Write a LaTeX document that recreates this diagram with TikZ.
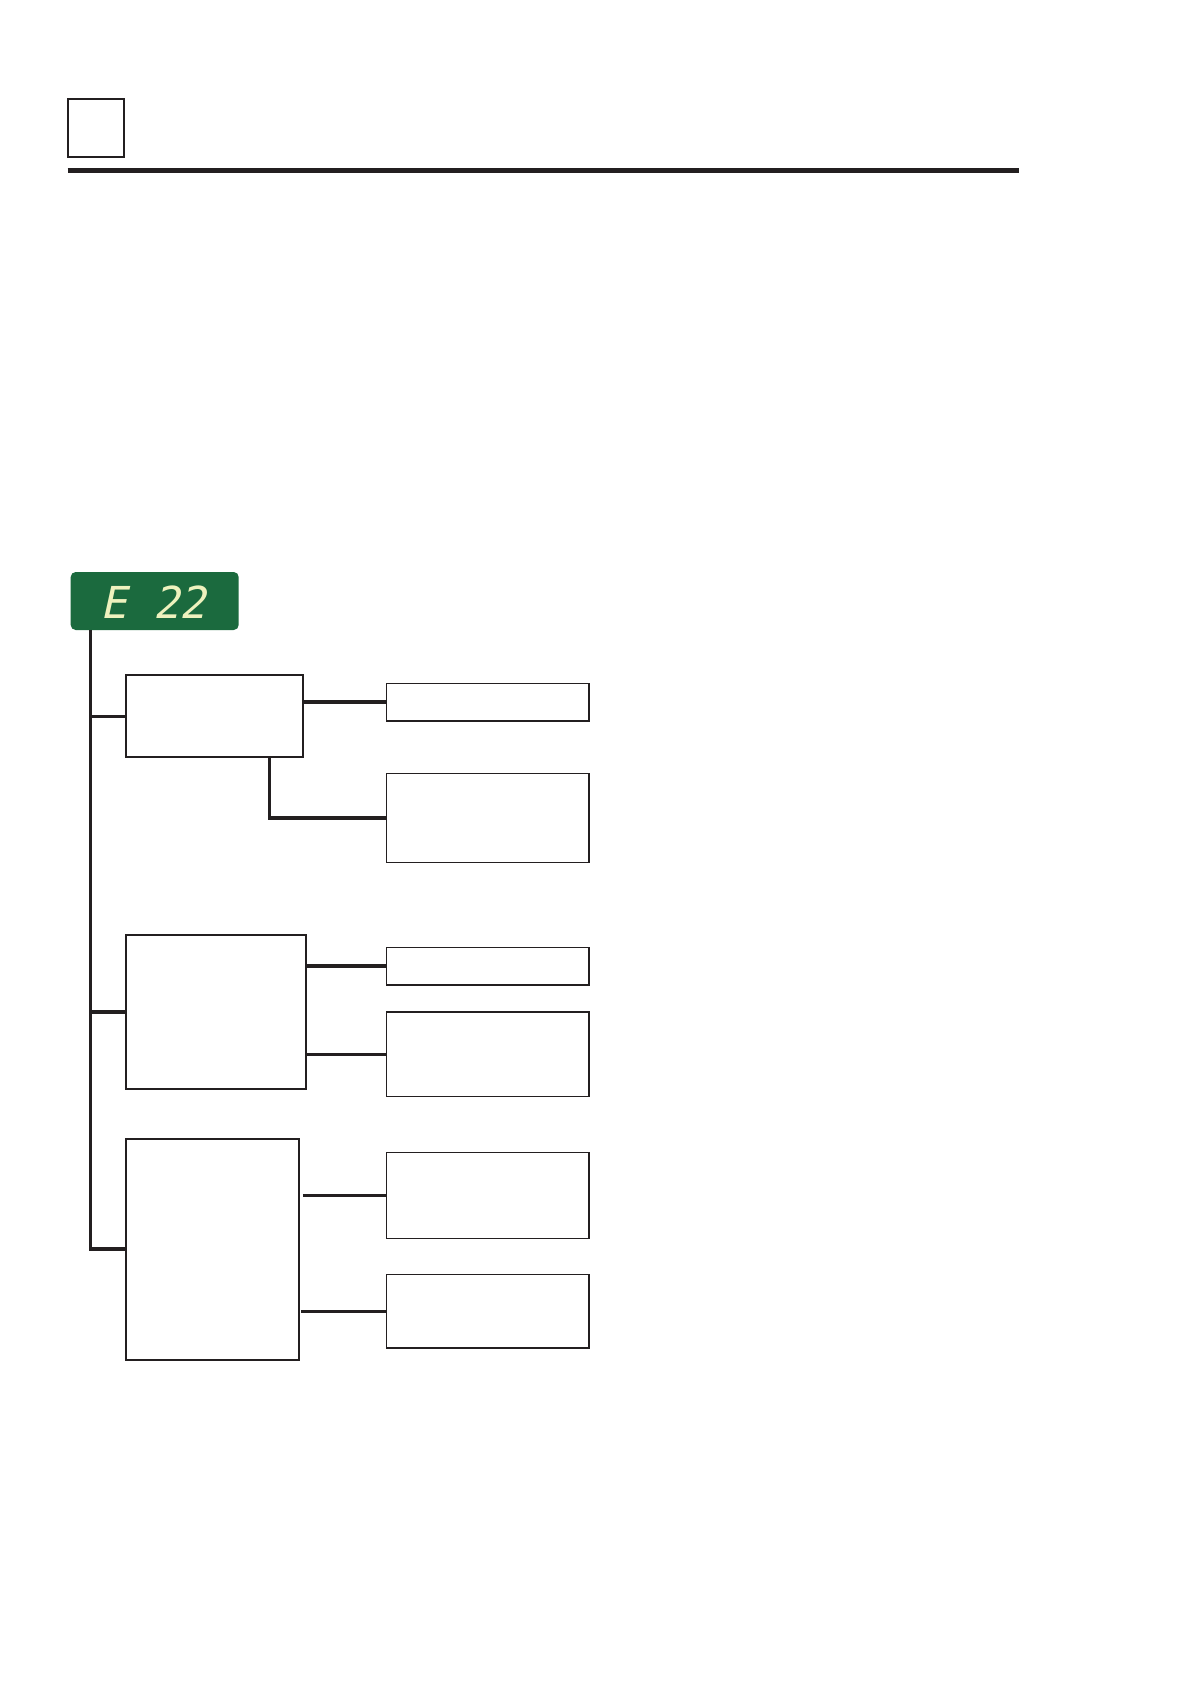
\documentclass[tikz,border=0pt]{standalone}
\usepackage{fontspec}
\usepackage{tikz}
\usetikzlibrary{
  positioning,
  calc,
}
\newfontfamily\segfont{DejaVu Sans Mono}[FakeSlant=0.22]
\definecolor{ink}{HTML}{231F20}
\definecolor{lcd}{HTML}{1B6A3E}
\definecolor{glow}{HTML}{EEF2BE}
\tikzset{
  panel/.style 2 args={
    draw=ink,
    line width=1pt,
    inner sep=0pt,
    outer sep=0pt,
    minimum width=#1*0.5pt,
    minimum height=#2*0.5pt,
  },
  leaf/.style 2 args={
    draw=ink,
    line width=0.7pt,
    inner sep=0pt,
    outer sep=0pt,
    minimum width=#1*0.5pt,
    minimum height=#2*0.5pt,
  },
  readout/.style={
    fill=lcd,
    rounded corners=2.5pt,
    inner sep=0pt,
    outer sep=0pt,
    minimum width=84pt,
    minimum height=29pt,
  },
  link/.style={draw=ink, line width=1.75pt},
}

\begin{document}
\begin{tikzpicture}[x=0.5pt,y=-0.5pt]
  \useasboundingbox (0,0) rectangle (1191,1684);
  \fill[white] (0,0) rectangle (1191,1684);

  % header
  \node[panel={56.5}{57.5}] (tab) at (96.2,127.8) {};
  \draw[ink, line width=2.35pt] (67.7,170.5) -- (1019.3,170.5);

  % display
  \node[readout] (disp) at (154.7,601) {};
  \node[font=\segfont\fontsize{22pt}{22pt}\selectfont, text=glow, anchor=west] (code) at (93,602) {E 22};
  \coordinate (stem) at (90.3,629.5);

  % left column
  \node[panel={177.3}{81.7}] (errA) at (214.4,716.3) {};
  \node[panel={180.3}{153.6}] (errB) at (215.9,1012.2) {};
  \node[panel={173.3}{221.2}] (errC) at (212.4,1249.1) {};

  % right column
  \node[leaf={202.5}{37.8}] (fixA1) at (487.8,702.1) {};
  \node[leaf={202.5}{89}] (fixA2) at (487.8,817.8) {};
  \node[leaf={202.5}{37.8}] (fixB1) at (487.8,966.2) {};
  \node[leaf={202.5}{84.7}] (fixB2) at (487.8,1054.3) {};
  \node[leaf={202.5}{86}] (fixC1) at (487.8,1195.3) {};
  \node[leaf={202.5}{73.3}] (fixC2) at (487.8,1311.3) {};

  % trunk
  \draw[link] (stem) |- (errC.west);
  \draw[link] (errA.west) -- (errA.west -| stem);
  \draw[link] (errB.west) -- (errB.west -| stem);

  % branches
  \draw[link] (errA.east |- fixA1.west) -- (fixA1.west);
  \draw[link] ([xshift=-16.75pt]errA.south east) |- (fixA2.west);
  \draw[link] (errB.east |- fixB1.west) -- (fixB1.west);
  \draw[link] (errB.east |- fixB2.west) -- (fixB2.west);
  \draw[link, shorten <=1.9pt] (errC.east |- fixC1.west) -- (fixC1.west);
  \draw[link, shorten <=0.9pt] (errC.east |- fixC2.west) -- (fixC2.west);
\end{tikzpicture}
\end{document}
